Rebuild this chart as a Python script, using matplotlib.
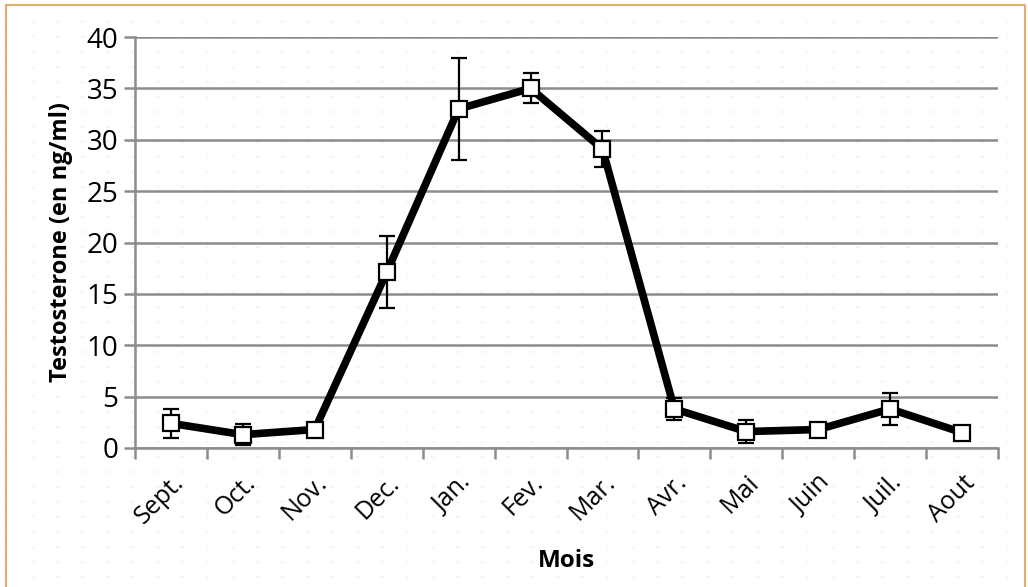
import matplotlib.pyplot as plt
import numpy as np

# mois et valeurs
months = ["Sept.", "Oct.", "Nov.", "Dec.", "Jan.", "Fev.", "Mar.",
          "Avr.", "Mai", "Juin", "Juil.", "Aout"]
testo = [2.4, 1.3, 1.8, 17.1, 33.0, 35.0, 29.1, 3.8, 1.6, 1.8, 3.8, 1.5]
testo_err = [1.4, 1.05, 0.6, 3.5, 5.0, 1.45, 1.75, 1.1, 1.1, 0.4, 1.55, 0.2]
y_ticks = [0, 5, 10, 15, 20, 25, 30, 35, 40]

plt.rcParams['font.family'] = ['Open Sans', 'DejaVu Sans']

W, H = 1028, 587
fig = plt.figure(figsize=(W / 100, H / 100), dpi=100)

# fond pointille + cadre
bg = fig.add_axes([0, 0, 1, 1], zorder=-1)
bg.set_xlim(0, W)
bg.set_ylim(H, 0)
bg.axis('off')
for yy in np.arange(22, H, 15):
    bg.plot([6, 1025], [yy, yy], color='#f2f2f2', lw=1.2,
            linestyle=(0, (2, 13)))
bg.plot([6, 6, 1025, 1025], [H, 5, 5, H], color='#e3ae6b', lw=1.5)

ax = fig.add_axes([135 / W, 1 - 448 / H, (998 - 135) / W, (448 - 37) / H])
ax.patch.set_alpha(0)
x = np.arange(len(months))

ax.errorbar(x, testo, yerr=testo_err, fmt='none', ecolor='black',
            elinewidth=1.6, capsize=5.5, capthick=1.6, zorder=3)
ax.plot(x, testo, color='black', lw=5.5, zorder=2)
ax.plot(x, testo, linestyle='none', marker='s', markersize=11,
        markerfacecolor='white', markeredgecolor='black',
        markeredgewidth=1.6, zorder=4)

ax.set_xlim(-0.5, len(months) - 0.5)
ax.set_ylim(0, 40)
ax.set_yticks(y_ticks)
ax.set_yticklabels([str(v) for v in y_ticks], fontsize=20)
ax.yaxis.grid(True, color='#8c8c8c', lw=1.8)
ax.set_axisbelow(True)

ax.set_xticks(x)
ax.set_xticklabels(months, fontsize=18, rotation=45, ha='right',
                   rotation_mode='anchor')
ax.set_xticks(np.arange(len(months) + 1) - 0.5, minor=True)
ax.tick_params(axis='x', which='major', length=0, pad=16)
ax.tick_params(axis='x', which='minor', length=8, width=1.8,
               color='#8c8c8c', direction='out')
ax.tick_params(axis='y', length=8, width=1.8, color='#8c8c8c', pad=4)

for side in ['top', 'right']:
    ax.spines[side].set_visible(False)
for side in ['left', 'bottom']:
    ax.spines[side].set_color('#8c8c8c')
    ax.spines[side].set_linewidth(1.8)

ax.set_xlabel('Mois', fontsize=17.5, fontweight='bold', labelpad=14)
ax.set_ylabel('Testosterone (en ng/ml)', fontsize=17, fontweight='bold',
              labelpad=10)

fig.savefig('out.png', dpi=100)
